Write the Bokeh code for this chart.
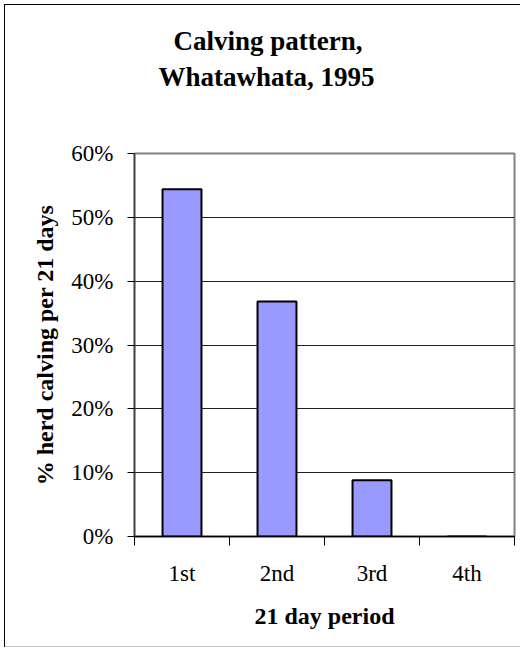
from bokeh.plotting import figure
from bokeh.models import Range1d, FixedTicker, NumeralTickFormatter, Title, ColumnDataSource
from bokeh.embed import file_html
from bokeh.resources import INLINE

periods = ["1st", "2nd", "3rd", "4th"]
share = [0.544, 0.368, 0.088, 0.0]
y_ticks = [0.0, 0.1, 0.2, 0.3, 0.4, 0.5, 0.6]
title_lines = ["Calving pattern,", "Whatawhata, 1995"]

FONT = "Liberation Serif"

xs = [i + 0.5 for i in range(len(periods))]
src = ColumnDataSource(dict(x=xs, top=share))

p = figure(width=520, height=649, output_backend="svg", toolbar_location=None,
           x_range=Range1d(0, len(periods)), y_range=Range1d(0, 0.6),
           min_border_left=134, min_border_right=6, min_border_top=153, min_border_bottom=113)
p.border_fill_color = None
p.background_fill_color = "white"
p.styles = {
    "background": ("linear-gradient(#000,#000) 4px 4px / 1px calc(100% - 6px) no-repeat, "
                   "linear-gradient(#000,#000) 4px 4px / 100% 1px no-repeat, "
                   "linear-gradient(#c8c8c8,#c8c8c8) 4px calc(100% - 2px) / 100% 1px no-repeat, "
                   "white")
}

p.vbar(x="x", top="top", width=0.41, source=src, fill_color="#9999ff",
       line_color="black", line_width=2)

p.outline_line_color = "#808080"
p.outline_line_width = 2
p.xgrid.visible = False
p.ygrid.grid_line_color = "#202020"
p.ygrid.grid_line_width = 1
p.ygrid.ticker = FixedTicker(ticks=y_ticks)

ya = p.yaxis[0]
ya.ticker = FixedTicker(ticks=y_ticks)
ya.formatter = NumeralTickFormatter(format="0%")
ya.major_tick_out = 7
ya.major_tick_in = 0
ya.minor_tick_out = 0
ya.minor_tick_in = 0
ya.axis_line_color = "#404040"
ya.axis_line_width = 1.5
ya.major_label_text_font = FONT
ya.major_label_text_font_size = "23px"
ya.major_label_text_color = "black"
ya.major_label_standoff = 14
ya.axis_label = "% herd calving per 21 days"
ya.axis_label_text_font = FONT
ya.axis_label_text_font_style = "bold"
ya.axis_label_text_font_size = "24px"
ya.axis_label_text_color = "black"
ya.axis_label_standoff = 10

xa = p.xaxis[0]
xa.ticker = FixedTicker(ticks=xs, minor_ticks=list(range(len(periods) + 1)))
xa.major_label_overrides = {x: lab for x, lab in zip(xs, periods)}
xa.major_tick_out = 0
xa.major_tick_in = 0
xa.minor_tick_out = 9
xa.minor_tick_in = 0
xa.minor_tick_line_color = "black"
xa.axis_line_color = "black"
xa.axis_line_width = 1.5
xa.major_label_text_font = FONT
xa.major_label_text_font_size = "23px"
xa.major_label_text_color = "black"
xa.major_label_standoff = 15
xa.axis_label = "21 day period"
xa.axis_label_text_font = FONT
xa.axis_label_text_font_style = "bold"
xa.axis_label_text_font_size = "24px"
xa.axis_label_text_color = "black"
xa.axis_label_standoff = 14

p.title.visible = False
# spacer between frame and the two title lines (closest to the frame)
p.add_layout(Title(text=" ", text_font_size="1px", standoff=57), "above")
p.add_layout(Title(text=title_lines[1], align="left", offset=24, standoff=4,
                   text_font=FONT, text_font_style="bold", text_font_size="27px",
                   text_color="black"), "above")
p.add_layout(Title(text=title_lines[0], align="left", offset=39, standoff=4,
                   text_font=FONT, text_font_style="bold", text_font_size="27px",
                   text_color="black"), "above")

open("out.html", "w").write(file_html(p, INLINE))
